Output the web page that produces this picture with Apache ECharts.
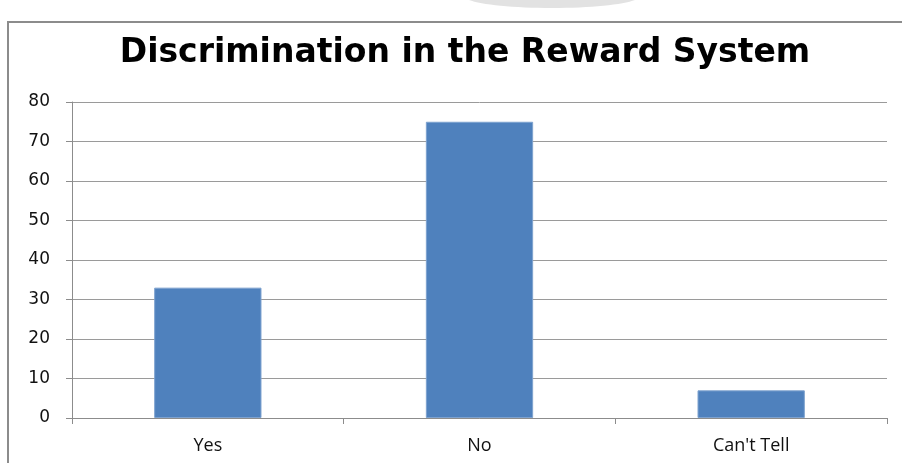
<!DOCTYPE html>
<html><head><meta charset="utf-8">
<script src="https://cdn.jsdelivr.net/npm/echarts@6/dist/echarts.min.js"></script>
<style>html,body{margin:0;padding:0;background:#fff}#c{width:902px;height:463px}</style>
</head><body><div id="c"></div>
<script>
const categories = ["Yes", "No", "Can't Tell"];
const values = [33, 75, 7];
const titleText = "Discrimination in the Reward System";

const chart = echarts.init(document.getElementById('c'));
chart.setOption({
  animation: false,
  backgroundColor: '#fff',
  title: {
    text: titleText, left: 460, textAlign: 'center', top: 32,
    textStyle: {fontFamily: 'DejaVu Sans', fontWeight: 'bold', fontSize: 33, color: '#000'}
  },
  graphic: [
    {type: 'ellipse', shape: {cx: 552, cy: -4, rx: 88, ry: 12}, style: {fill: '#e2e2e2'}, z: -1},
    {type: 'polyline', shape: {points: [[8, 463], [8, 22], [902, 22]]}, style: {stroke: '#8c8c8c', lineWidth: 2, fill: null}}
  ],
  grid: {left: 72, right: 15, top: 102, bottom: 45},
  xAxis: {
    type: 'category', data: categories,
    axisLine: {lineStyle: {color: '#8c8c8c', width: 1}},
    axisTick: {show: true, length: 6, lineStyle: {color: '#8c8c8c'}},
    axisLabel: {color: '#111', fontFamily: 'Open Sans', fontSize: 18, margin: 19}
  },
  yAxis: {
    type: 'value', min: 0, max: 80, interval: 10,
    axisLine: {show: true, lineStyle: {color: '#8c8c8c'}},
    axisTick: {show: true, length: 6, lineStyle: {color: '#8c8c8c'}},
    splitLine: {lineStyle: {color: '#9a9a9a'}},
    axisLabel: {color: '#111', fontFamily: 'DejaVu Sans', fontSize: 17, margin: 22}
  },
  series: [{
    type: 'bar', data: values, barWidth: '39.5%',
    itemStyle: {color: '#4f81bd', borderColor: '#7ea2cf', borderWidth: 1}
  }]
});
</script></body></html>
